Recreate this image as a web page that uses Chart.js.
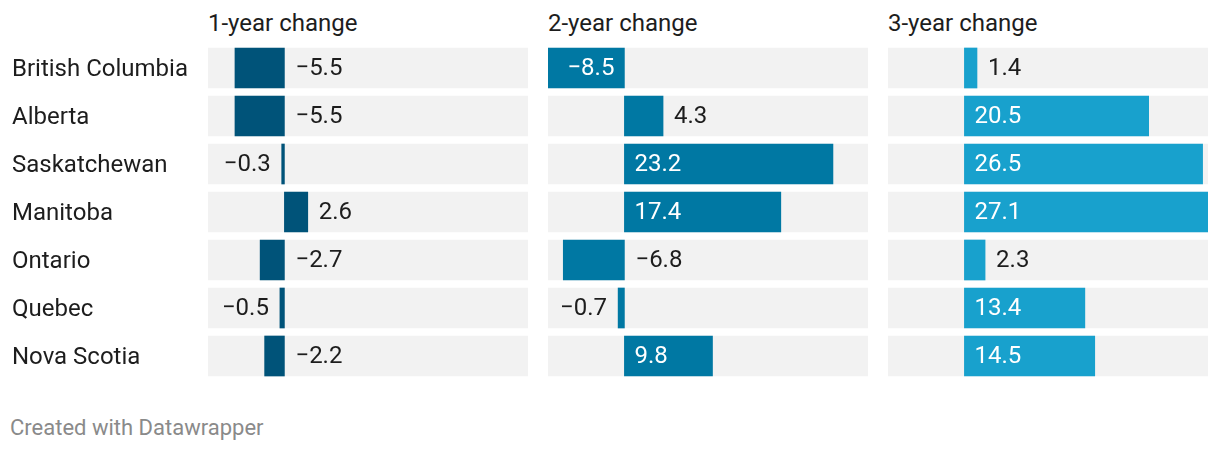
<!DOCTYPE html>
<html>
<head>
<meta charset="utf-8">
<script src="https://cdn.jsdelivr.net/npm/chart.js@4/dist/chart.umd.min.js"></script>
<style>
  html, body { margin: 0; padding: 0; background: #fff; }
  body { width: 1220px; height: 452px; position: relative; overflow: hidden; font-family: Roboto, "Noto Sans", sans-serif; }
  .panel { position: absolute; top: 0; height: 400px; }
  .title { position: absolute; top: 11px; font-size: 24px; line-height: 24px; color: #1d1d1d; white-space: nowrap; }
  .footer { position: absolute; left: 10px; top: 417px; font-size: 22px; line-height: 22px; color: #8a8a8a; white-space: nowrap; }
</style>
</head>
<body>
<div class="title" style="left:208px">1-year change</div>
<div class="title" style="left:548px">2-year change</div>
<div class="title" style="left:888px">3-year change</div>
<div class="panel" style="left:0px;width:540px"><canvas id="c1"></canvas></div>
<div class="panel" style="left:548px;width:320px"><canvas id="c2"></canvas></div>
<div class="panel" style="left:888px;width:320px"><canvas id="c3"></canvas></div>
<div class="footer">Created with Datawrapper</div>
<script>
const provinces = ["British Columbia", "Alberta", "Saskatchewan", "Manitoba", "Ontario", "Quebec", "Nova Scotia"];
const change1 = [-5.5, -5.5, -0.3, 2.6, -2.7, -0.5, -2.2];
const change2 = [-8.5, 4.3, 23.2, 17.4, -6.8, -0.7, 9.8];
const change3 = [1.4, 20.5, 26.5, 27.1, 2.3, 13.4, 14.5];
const axisMin = -8.5;
const axisMax = 27.1;

const FONT = "Roboto, 'Noto Sans', sans-serif";

function fmt(v) {
  const s = Math.abs(v).toFixed(1);
  return v < 0 ? "\u2212" + s : s;
}

const labelPlugin = {
  id: 'valueLabels',
  afterDatasetsDraw(chart) {
    const ctx = chart.ctx;
    const meta = chart.getDatasetMeta(0);
    const data = chart.data.datasets[0].data;
    const area = chart.chartArea;
    const pad = 10, padOut = 11;
    ctx.save();
    ctx.font = "24px " + FONT;
    ctx.textBaseline = 'middle';
    meta.data.forEach((el, i) => {
      const v = data[i];
      const txt = fmt(v);
      const tw = ctx.measureText(txt).width;
      const barW = Math.abs(el.x - el.base);
      let x, align, color;
      if (v >= 0) {
        if (barW >= tw + 2 * pad) { x = el.base + pad; align = 'left'; color = '#ffffff'; }
        else { x = el.x + padOut; align = 'left'; color = '#1d1d1d'; }
      } else {
        if (barW >= tw + 2 * pad) { x = el.base - pad; align = 'right'; color = '#ffffff'; }
        else if (el.x - area.left >= tw + 2 * pad) { x = el.x - padOut; align = 'right'; color = '#1d1d1d'; }
        else { x = el.base + padOut; align = 'left'; color = '#1d1d1d'; }
      }
      ctx.textAlign = align;
      ctx.fillStyle = color;
      ctx.fillText(txt, x, el.y + 1);
    });
    ctx.restore();
  }
};

function makeChart(id, values, color, showLabels) {
  return new Chart(document.getElementById(id), {
    type: 'bar',
    data: {
      labels: provinces,
      datasets: [
        { data: values, backgroundColor: color, barThickness: 40, grouped: false, order: 0 },
        { data: provinces.map(() => [axisMin, axisMax]), backgroundColor: '#f2f2f2', barThickness: 40, grouped: false, order: 1 }
      ]
    },
    options: {
      indexAxis: 'y',
      responsive: true,
      maintainAspectRatio: false,
      animation: false,
      devicePixelRatio: 1,
      layout: { padding: { top: 44, bottom: 20, left: showLabels ? 12 : 0, right: showLabels ? 12 : 0 } },
      plugins: { legend: { display: false }, tooltip: { enabled: false }, title: { display: false } },
      scales: {
        x: { display: false, min: axisMin, max: axisMax },
        y: {
          display: showLabels,
          grid: { display: false, drawBorder: false },
          border: { display: false },
          afterFit(scale) { if (showLabels) scale.width = 196; },
          ticks: { crossAlign: 'far', padding: 0, labelOffset: 2, color: '#1d1d1d', font: { family: FONT, size: 24 } }
        }
      }
    },
    plugins: [labelPlugin]
  });
}

makeChart('c1', change1, '#005379', true);
makeChart('c2', change2, '#0078a3', false);
makeChart('c3', change3, '#18a1cd', false);
</script>
</body>
</html>
